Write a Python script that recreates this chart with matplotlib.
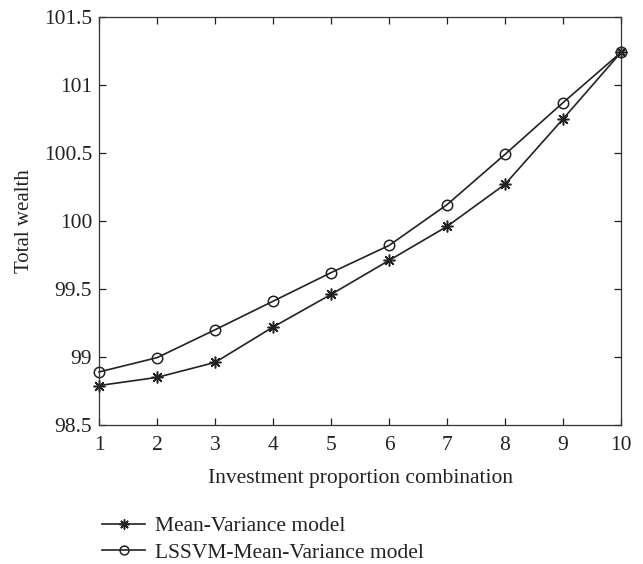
import matplotlib
matplotlib.use("Agg")
import matplotlib.pyplot as plt

x_vals = [1, 2, 3, 4, 5, 6, 7, 8, 9, 10]
mean_variance = [98.79, 98.85, 98.96, 99.22, 99.46, 99.71, 99.96, 100.27, 100.75, 101.24]
lssvm_mean_variance = [98.89, 98.995, 99.20, 99.41, 99.62, 99.82, 100.12, 100.49, 100.87, 101.24]
y_ticks = [98.5, 99, 99.5, 100, 100.5, 101, 101.5]
y_tick_labels = ["98.5", "99", "99.5", "100", "100.5", "101", "101.5"]
series_names = ["Mean-Variance model", "LSSVM-Mean-Variance model"]

plt.rcParams['font.family'] = ['Liberation Serif', 'DejaVu Serif']

fig = plt.figure(figsize=(6.43, 5.64), dpi=100)
ax = fig.add_axes([99/643, 1 - 425/564, (621-99)/643, (425-17)/564])

c = '#222222'
ax.plot(x_vals, mean_variance, color=c, lw=1.2, marker=(8, 2, 0), ms=8.5,
        mew=1.1, label=series_names[0], clip_on=False)
ax.plot(x_vals, lssvm_mean_variance, color=c, lw=1.2, marker='o', ms=7.5,
        mfc='none', mec=c, mew=1.1, label=series_names[1], clip_on=False)

ax.set_xlim(1, 10)
ax.set_ylim(98.5, 101.5)
ax.set_xticks(x_vals)
ax.set_yticks(y_ticks)
ax.set_yticklabels(y_tick_labels)
ax.tick_params(direction='in', top=True, right=True, length=5, width=0.9,
               labelsize=15.5, colors=c, pad=5)
ax.tick_params(axis='x', pad=8)
for s in ax.spines.values():
    s.set_color('#333333')
    s.set_linewidth(0.9)

ax.set_xlabel("Investment proportion combination", fontsize=15.5, color=c, labelpad=10)
ax.set_ylabel("Total wealth", fontsize=15, color=c, labelpad=7)

leg = ax.legend(loc='upper left', bbox_to_anchor=(102/643, 1 - 516/564),
                bbox_transform=fig.transFigure, frameon=False, fontsize=15.5,
                handlelength=2.0, handletextpad=0.45, labelspacing=0.3,
                borderpad=0, borderaxespad=0, markerscale=0.85)
for t in leg.get_texts():
    t.set_color(c)

fig.savefig("out.png", dpi=100)
